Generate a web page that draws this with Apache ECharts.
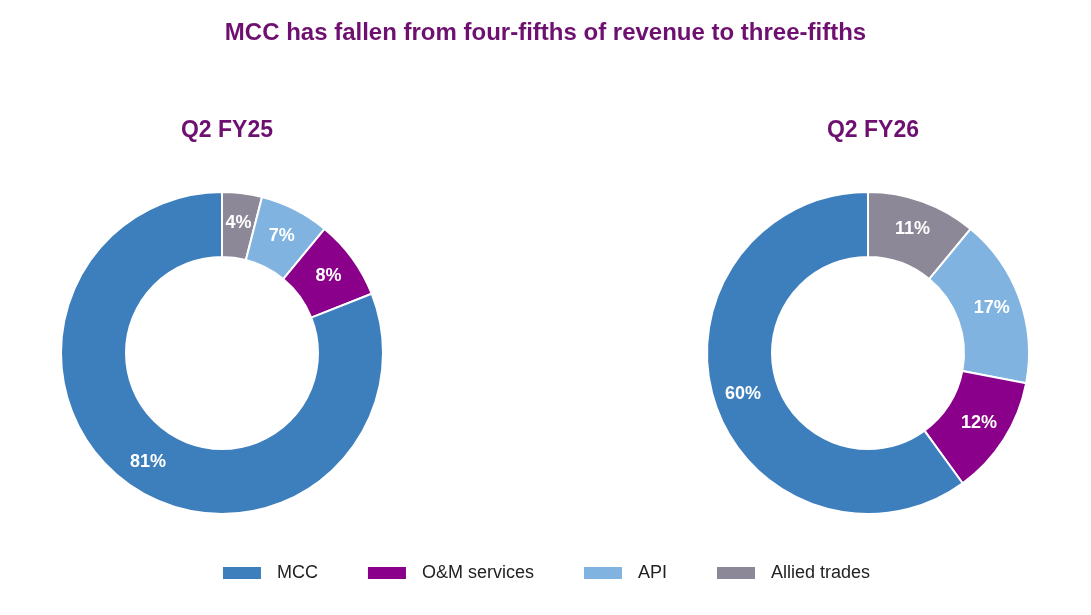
<!DOCTYPE html>
<html><head><meta charset="utf-8">
<script src="https://cdn.jsdelivr.net/npm/echarts@6/dist/echarts.min.js"></script>
<style>html,body{margin:0;padding:0;background:#fff}#c{width:1091px;height:615px}</style>
</head><body><div id="c"></div>
<script>
const categories = ['Allied trades','API','O&M services','MCC'];
const legendOrder = ['MCC','O&M services','API','Allied trades'];
const fy25 = [4,7,8,81];
const fy26 = [11,17,12,60];
const colors = {'MCC':'#3d7ebd','O&M services':'#8a008a','API':'#80b3e0','Allied trades':'#8c8897'};
const font = 'Liberation Sans, Arial, sans-serif';
function mk(vals, cx){
  return {type:'pie', center:[cx,353], radius:[96,161], startAngle:90, clockwise:true,
    avoidLabelOverlap:false,
    itemStyle:{borderColor:'#fff', borderWidth:2},
    label:{show:true, position:'inside', formatter:'{c}%', color:'#fff', fontWeight:'bold', fontSize:18, fontFamily:font},
    labelLine:{show:false},
    data: categories.map((c,i)=>({name:c, value:vals[i], itemStyle:{color:colors[c]}}))};
}
const chart = echarts.init(document.getElementById('c'));
chart.setOption({
  animation:false,
  title:[
    {text:'MCC has fallen from four-fifths of revenue to three-fifths', left:'center', top:16, textStyle:{color:'#6e1070', fontSize:24, fontWeight:'bold', fontFamily:font}},
    {text:'Q2 FY25', left:222, textAlign:'center', top:114, textStyle:{color:'#6e1070', fontSize:23, fontWeight:'bold', fontFamily:font}},
    {text:'Q2 FY26', left:868, textAlign:'center', top:114, textStyle:{color:'#6e1070', fontSize:23, fontWeight:'bold', fontFamily:font}}
  ],
  legend:{data:legendOrder, bottom:28, left:'center', icon:'rect', itemWidth:40, itemHeight:14, itemGap:48,
    textStyle:{fontSize:18, color:'#222', fontFamily:font, padding:[0,0,0,10]}},
  series:[mk(fy25,222), mk(fy26,868)]
});
</script></body></html>
